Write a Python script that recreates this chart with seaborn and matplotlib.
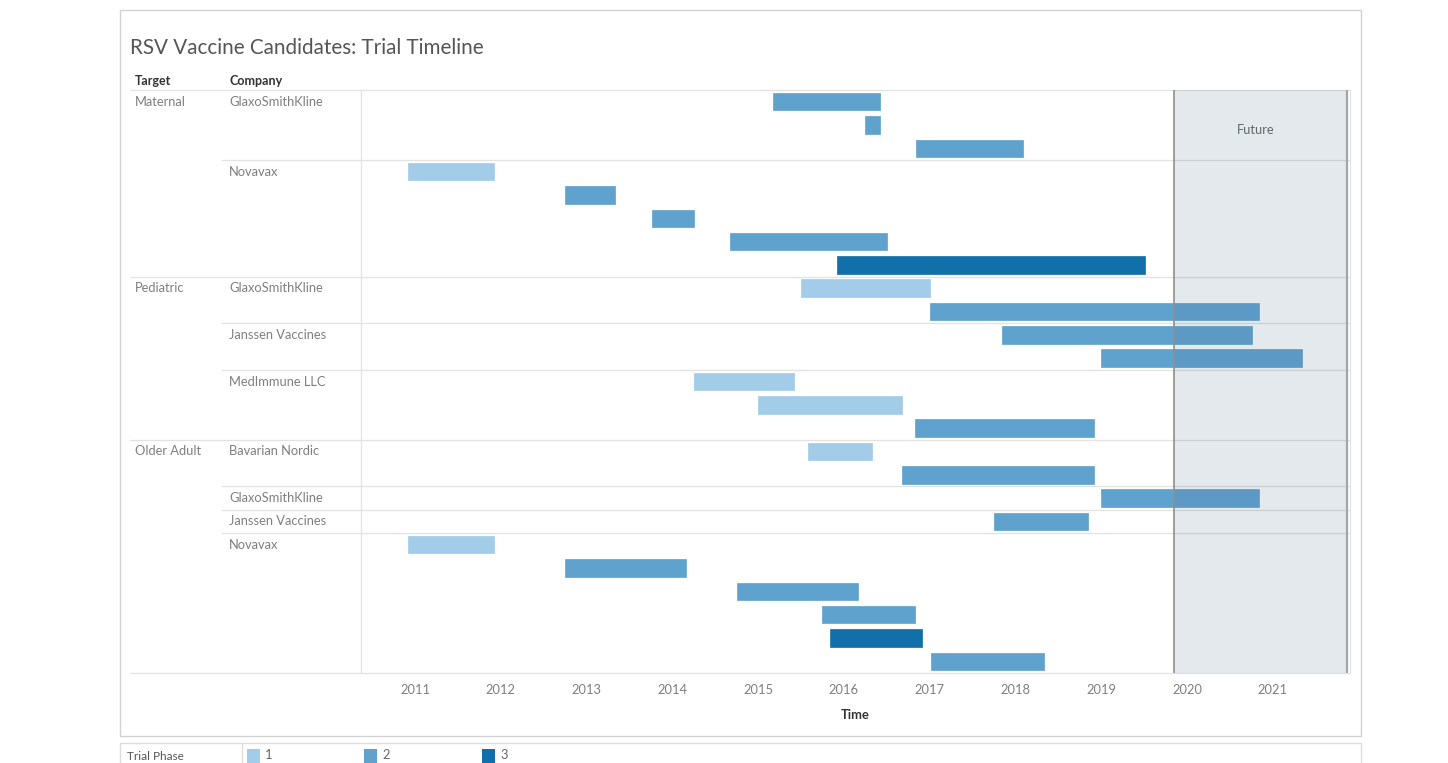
import matplotlib
matplotlib.use("Agg")
import matplotlib.pyplot as plt
from matplotlib.patches import Rectangle
from matplotlib.lines import Line2D
import pandas as pd
import seaborn as sns

# ---- values ----
row_target = (["Maternal"] * 8 + ["Pediatric"] * 7 + ["Older Adult"] * 10)
row_company = (["GlaxoSmithKline"] * 3 + ["Novavax"] * 5
               + ["GlaxoSmithKline"] * 2 + ["Janssen Vaccines"] * 2 + ["MedImmune LLC"] * 3
               + ["Bavarian Nordic"] * 2 + ["GlaxoSmithKline"] + ["Janssen Vaccines"]
               + ["Novavax"] * 6)
trial_start = [2015.17, 2016.25, 2016.84,
               2010.92, 2012.75, 2013.76, 2014.67, 2015.92,
               2015.50, 2017.00,
               2017.84, 2019.00,
               2014.25, 2015.00, 2016.83,
               2015.58, 2016.68,
               2019.00,
               2017.75,
               2010.92, 2012.75, 2014.75, 2015.75, 2015.84, 2017.01]
trial_end = [2016.42, 2016.42, 2018.09,
             2011.92, 2013.33, 2014.25, 2016.50, 2019.51,
             2017.00, 2020.84,
             2020.76, 2021.34,
             2015.42, 2016.68, 2018.92,
             2016.33, 2018.92,
             2020.84,
             2018.84,
             2011.92, 2014.16, 2016.16, 2016.83, 2016.91, 2018.33]
trial_phase = [2, 2, 2,
               1, 2, 2, 2, 3,
               1, 2,
               2, 2,
               1, 1, 2,
               1, 2,
               2,
               2,
               1, 2, 2, 2, 3, 2]
phases = [1, 2, 3]
years = list(range(2011, 2022))
future_start = 2019.85
future_end = 2021.86

df = pd.DataFrame({"target": row_target, "company": row_company,
                   "start": trial_start, "end": trial_end, "phase": trial_phase})
df["row"] = range(len(df))

sns.set_theme(style="white")
plt.rcParams["font.family"] = ["Lato", "DejaVu Sans"]
phase_colors = dict(zip(phases, ["#a3cce9", "#5fa2ce", "#1170aa"]))

W, H = 1448, 763
fig = plt.figure(figsize=(W / 100, H / 100), dpi=100)


def fx(px):
    return px / W


def fy(py):
    return 1 - py / H


L, R, T, B = 361, 1350, 90, 673
ax = fig.add_axes([fx(L), fy(B), (R - L) / W, (B - T) / H])


def axx(px):
    return (px - L) / (R - L)


grid_c = "#e2e2e2"
lab_fs = 9.3
lab_c = "#7f7f7f"

# gantt bars
for ph in phases:
    sub = df[df.phase == ph]
    ax.barh(sub.row, sub.end - sub.start, left=sub.start, height=0.75,
            color=phase_colors[ph], edgecolor=phase_colors[ph], linewidth=0.5, zorder=2)

ax.set_xlim(2010.37, 2021.90)
ax.set_ylim(len(df) - 0.5, -0.5)
ax.set_yticks([])
for s in ["top", "bottom"]:
    ax.spines[s].set_visible(False)
for s in ["left", "right"]:
    ax.spines[s].set_color(grid_c)
    ax.spines[s].set_linewidth(0.9)

# future band
ax.axvspan(future_start, future_end, color="#4b6c8e", alpha=0.15, lw=0, zorder=3)
ax.axvline(future_start, color="#8f8f8f", lw=1.2, zorder=4)
ax.axvline(future_end, color="#a5a5a5", lw=1.6, zorder=4)
ax.text((future_start + future_end) / 2 - 0.05, 0.931, "Future",
        transform=ax.get_xaxis_transform(),
        ha="center", va="center", fontsize=lab_fs, color="#666666", zorder=5)

# row labels and separators
ytr = ax.get_yaxis_transform()
prev_t, prev_c = None, None
for i, (t, c) in enumerate(zip(df.target, df.company)):
    if t != prev_t:
        if i > 0:
            ax.plot([axx(130), 1], [i - 0.5] * 2, transform=ytr, color=grid_c, lw=0.9,
                    clip_on=False, zorder=1)
        ax.text(axx(135), i, t, transform=ytr, ha="left", va="center", fontsize=lab_fs,
                color=lab_c)
    if t != prev_t or c != prev_c:
        if i > 0 and t == prev_t:
            ax.plot([axx(222), 1], [i - 0.5] * 2, transform=ytr, color=grid_c, lw=0.9,
                    clip_on=False, zorder=1)
        ax.text(axx(229), i, c, transform=ytr, ha="left", va="center", fontsize=lab_fs,
                color=lab_c)
    prev_t, prev_c = t, c

# header and bottom lines
ax.plot([axx(130), 1], [-0.5] * 2, transform=ytr, color=grid_c, lw=0.9, clip_on=False)
ax.plot([axx(130), 1], [len(df) - 0.5] * 2, transform=ytr, color=grid_c, lw=0.9, clip_on=False)

# x axis
ax.set_xticks(years)
ax.set_xticklabels([str(y) for y in years])
ax.tick_params(axis="x", length=0, pad=8, labelsize=lab_fs, labelcolor=lab_c)
ax.set_xlabel("Time", fontsize=lab_fs, fontweight="bold", color="#333333", labelpad=9)

# headers and title
fig.text(fx(135), fy(81), "Target", fontsize=9, fontweight="bold", color="#333333", va="center")
fig.text(fx(229), fy(81), "Company", fontsize=9, fontweight="bold", color="#333333", va="center")
fig.text(fx(130), fy(48), "RSV Vaccine Candidates: Trial Timeline", fontsize=14.9,
         color="#555555", va="center")

# outer frame
fig.add_artist(Rectangle((fx(120), fy(736)), fx(1361) - fx(120), fy(10) - fy(736),
                         transform=fig.transFigure, fill=False, edgecolor="#d2d2d2", lw=1))

# legend strip
fig.add_artist(Rectangle((fx(120), fy(775)), fx(1361) - fx(120), fy(743) - fy(775),
                         transform=fig.transFigure, fill=False, edgecolor="#dddddd", lw=1))
fig.add_artist(Line2D([fx(242)] * 2, [fy(743), 0], transform=fig.transFigure,
                      color="#dddddd", lw=1))
fig.text(fx(127), fy(757), "Trial Phase", fontsize=8.5, color="#555555", va="center")
for ph, px in zip(phases, [247, 364, 482]):
    fig.add_artist(Rectangle((fx(px), fy(764)), 13 / W, 15 / H, transform=fig.transFigure,
                             color=phase_colors[ph], lw=0))
    fig.text(fx(px + 18), fy(755), str(ph), fontsize=lab_fs, color="#666666", va="center")

fig.savefig("out.png", dpi=100)
